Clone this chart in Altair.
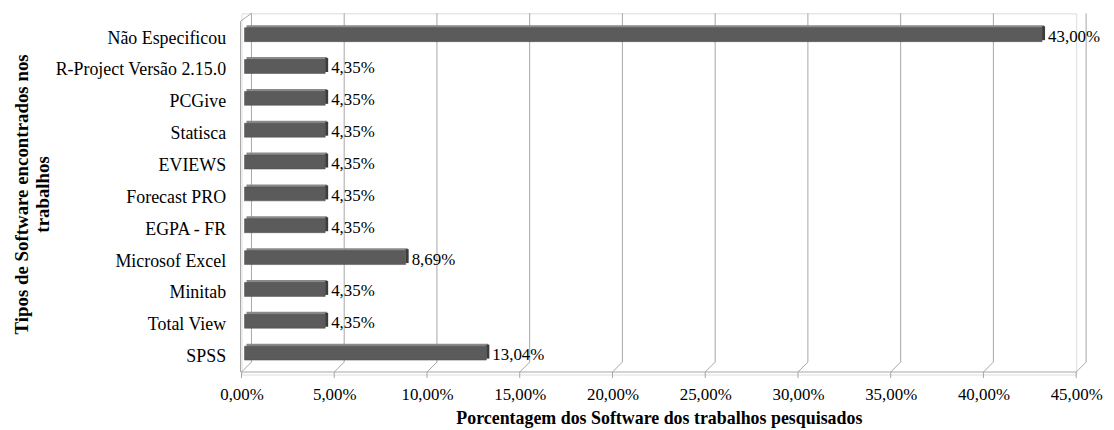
import altair as alt
import pandas as pd

software = ["Não Especificou", "R-Project Versão 2.15.0", "PCGive", "Statisca", "EVIEWS",
            "Forecast PRO", "EGPA - FR", "Microsof Excel", "Minitab", "Total View", "SPSS"]
percent = [43.00, 4.35, 4.35, 4.35, 4.35, 4.35, 4.35, 8.69, 4.35, 4.35, 13.04]
ticks = [0, 5, 10, 15, 20, 25, 30, 35, 40, 45]

FONT = "Times New Roman, Liberation Serif, DejaVu Serif, serif"

df = pd.DataFrame({"sw": software, "val": percent})
df["zero"] = 0.0
df["lab"] = [f"{v:.2f}".replace(".", ",") + "%" for v in percent]
tk = pd.DataFrame({"t": ticks})
floor = pd.DataFrame({"a": [ticks[0]], "b": [ticks[-1]]})

xs = alt.Scale(domain=[ticks[0], ticks[-1]], nice=False, zero=False)
ys = alt.Scale(domain=software, paddingInner=0, paddingOuter=0.171)

GRID = "#a6a6a6"

base_x = alt.X("t:Q", scale=xs,
               axis=alt.Axis(values=ticks, grid=False, domain=False, ticks=False,
                             labelFlush=False, labelOverlap=False,
                             labelExpr="replace(format(datum.value, '.2f'), '.', ',') + '%'",
                             labelFont=FONT, labelFontSize=17, labelColor="#000000",
                             labelPadding=12,
                             title="Porcentagem dos Software dos trabalhos pesquisados",
                             titleFont=FONT, titleFontSize=18, titleFontWeight="bold",
                             titleColor="#000000", titlePadding=7))

grid = alt.Chart(tk).mark_rule(color=GRID, strokeWidth=1, xOffset=10).encode(
    x=base_x, y=alt.value(0), y2=alt.value(351))
slant = alt.Chart(tk).mark_rule(color=GRID, strokeWidth=1, x2Offset=10).encode(
    x=alt.X("t:Q", scale=xs), x2="t:Q", y=alt.value(361), y2=alt.value(351))
tickm = alt.Chart(tk).mark_rule(color=GRID, strokeWidth=1).encode(
    x=alt.X("t:Q", scale=xs), y=alt.value(361), y2=alt.value(367))
floorline = alt.Chart(floor).mark_rule(color=GRID, strokeWidth=1).encode(
    x=alt.X("a:Q", scale=xs), x2="b:Q", y=alt.value(361))
wall = alt.Chart(floor).mark_rule(color=GRID, strokeWidth=1, xOffset=-1).encode(
    x=alt.X("a:Q", scale=xs), y=alt.value(8), y2=alt.value(361))
wall_top = alt.Chart(floor).mark_rule(color=GRID, strokeWidth=1, xOffset=-1, x2Offset=10).encode(
    x=alt.X("a:Q", scale=xs), x2="a:Q", y=alt.value(8), y2=alt.value(0))

yenc = alt.Y("sw:N", scale=ys, sort=software,
             axis=alt.Axis(domain=False, ticks=False, tickSize=0, grid=False,
                           labelFont=FONT, labelFontSize=18, labelColor="#000000",
                           labelPadding=16, labelOffset=4,
                           title=["Tipos de Software encontrados nos", "trabalhos"],
                           titleFont=FONT, titleFontSize=19, titleFontWeight="bold",
                           titleLineHeight=21,
                           titleColor="#000000", titlePadding=2))

top_face = alt.Chart(df).mark_bar(height=3, yOffset=-8, color="#8a8a8a",
                                  xOffset=5, x2Offset=5).encode(
    x=alt.X("zero:Q", scale=xs), x2="val:Q", y=yenc)
front = alt.Chart(df).mark_bar(height=14, color="#5b5b5b", xOffset=3, x2Offset=3,
                               stroke="#4a4a4a", strokeWidth=0.5).encode(
    x=alt.X("zero:Q", scale=xs), x2="val:Q", y=yenc)
cap = alt.Chart(df).mark_bar(height=14, yOffset=-1.5, color="#3c3c3c",
                             xOffset=3, x2Offset=6).encode(
    x=alt.X("val:Q", scale=xs), x2="val:Q", y=yenc)
labels = alt.Chart(df).mark_text(align="left", baseline="middle", dx=9, dy=2,
                                 font=FONT, fontSize=17, color="#000000").encode(
    x=alt.X("val:Q", scale=xs), y=yenc, text="lab:N")

chart = alt.layer(grid, slant, tickm, floorline, wall, wall_top,
                  top_face, front, cap, labels).properties(
    width=840, height=363.5,
    autosize=alt.AutoSizeParams(type="none"),
    padding={"left": 235, "top": 4, "right": 30, "bottom": 54},
).configure_view(stroke=None).configure(background="#ffffff")

chart.save("out.html", embed_options={"renderer": "svg", "actions": False})
